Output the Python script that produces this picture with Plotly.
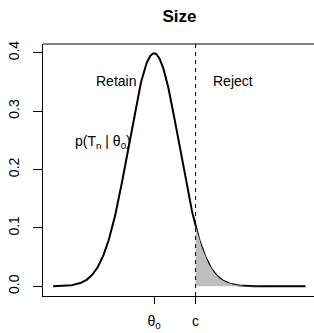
import math
import plotly.graph_objects as go

# ---- data ----
theta0 = 0.0          # null mean
sd = 1.0              # sampling sd
c_crit = 1.645        # critical value (upper 5% point)
x_min, x_max = -4.0, 6.0
n_pts = 401

y_ticks = [0.0, 0.1, 0.2, 0.3, 0.4]
y_tick_labels = ["0.0", "0.1", "0.2", "0.3", "0.4"]
x_ticks = [theta0, c_crit]
x_tick_labels = ["θ<sub>0</sub>", "c"]

def dens(x):
    return math.exp(-0.5 * ((x - theta0) / sd) ** 2) / (sd * math.sqrt(2 * math.pi))

xs = [x_min + (x_max - x_min) * i / (n_pts - 1) for i in range(n_pts)]
ys = [dens(x) for x in xs]

tail_x = [c_crit] + [x for x in xs if x > c_crit] + [x_max, c_crit]
tail_y = [dens(c_crit)] + [dens(x) for x in xs if x > c_crit] + [0.0, 0.0]

font = "Liberation Sans, Arial, sans-serif"

fig = go.Figure()
fig.add_trace(go.Scatter(x=xs, y=ys, mode="lines",
                         line=dict(color="black", width=2), hoverinfo="skip"))
fig.add_trace(go.Scatter(x=tail_x, y=tail_y, mode="lines", fill="toself",
                         fillcolor="#BEBEBE", line=dict(width=0, color="rgba(0,0,0,0)"),
                         hoverinfo="skip"))

# dashed critical line
fig.add_shape(type="line", xref="x", yref="paper", x0=c_crit, x1=c_crit, y0=0, y1=1,
              line=dict(color="black", width=1, dash="4px,4px"))
# top box line
fig.add_shape(type="line", xref="paper", yref="paper", x0=0, x1=1, y0=1, y1=1,
              line=dict(color="black", width=1))

fig.add_annotation(x=-1.49, y=0.3515, xref="x", yref="y", text="Retain", showarrow=False,
                   font=dict(size=14, color="black", family=font))
fig.add_annotation(x=3.13, y=0.3515, xref="x", yref="y", text="Reject", showarrow=False,
                   font=dict(size=14, color="black", family=font))
fig.add_annotation(x=-2.02, y=0.247, xref="x", yref="y",
                   text="p(T<sub>n</sub> | θ<sub>0</sub>)", showarrow=False,
                   font=dict(size=14, color="black", family=font))

fig.update_layout(
    width=314, height=333,
    margin=dict(l=43, r=0, t=44, b=37, autoexpand=False),
    paper_bgcolor="white", plot_bgcolor="white",
    showlegend=False,
    title=dict(text="<b>Size</b>", x=(179.5 / 314), xanchor="center",
               y=1 - 16 / 333, yanchor="middle",
               font=dict(size=17, color="black", family=font)),
    font=dict(family=font, size=14, color="black"),
)
fig.update_xaxes(range=[-4.4, 6.337], showgrid=False, zeroline=False, automargin=False,
                 showline=True, linecolor="black", linewidth=1,
                 tickmode="array", tickvals=x_ticks, ticktext=x_tick_labels,
                 ticks="outside", ticklen=7, tickcolor="black", tickwidth=1,
                 ticklabelstandoff=5,
                 tickfont=dict(size=14, color="black", family=font))
fig.update_yaxes(range=[-0.01658, 0.4149], showgrid=False, zeroline=False, automargin=False,
                 showline=True, linecolor="black", linewidth=1,
                 tickmode="array", tickvals=y_ticks, ticktext=y_tick_labels,
                 ticks="outside", ticklen=9, tickcolor="black", tickwidth=1,
                 tickangle=-90, ticklabelstandoff=8,
                 tickfont=dict(size=14, color="black", family=font))

fig.write_html("out.html", config={"displayModeBar": False},
               post_script="document.body.style.margin='0';document.body.style.overflow='hidden';")
